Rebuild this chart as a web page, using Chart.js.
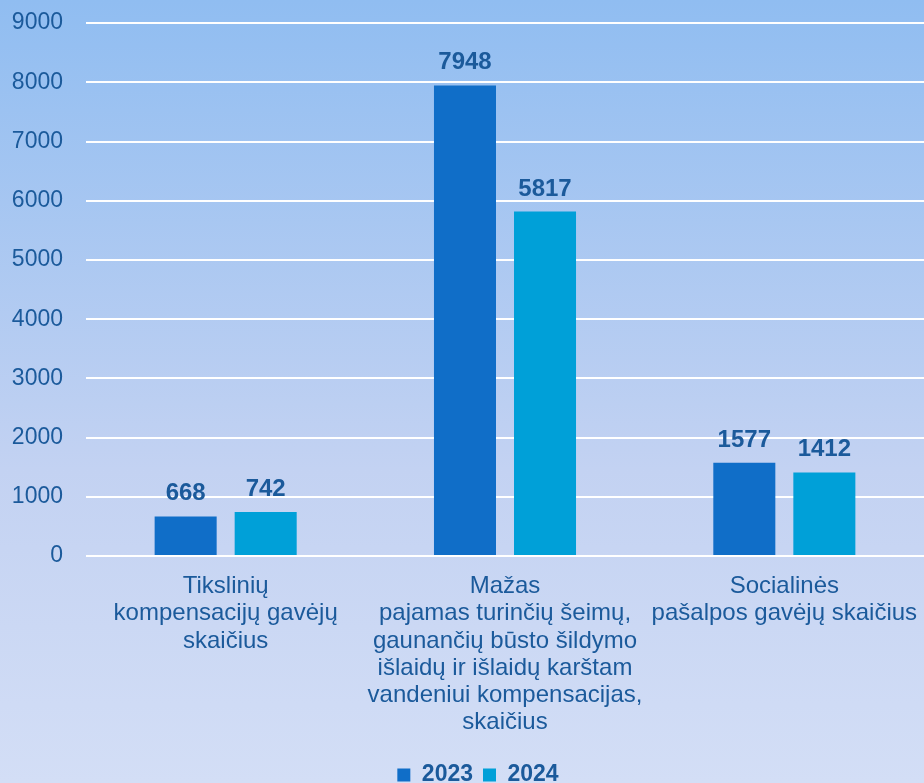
<!DOCTYPE html>
<html lang="lt">
<head>
    <meta charset="UTF-8">
    <title>Kompensacijų gavėjai</title>
    <script src="https://cdn.jsdelivr.net/npm/chart.js"></script>
    <style>
        body { margin: 0; padding: 0; }
        .wrap { width: 924px; height: 783px; background: linear-gradient(to bottom, #90bdf1 0%, #c3d2f2 60%, #d3def6 100%); }
    </style>
</head>
<body>
    <div class="wrap">
        <canvas id="chart" width="924" height="783"></canvas>
    </div>

    <script>
        // data
        const categories = [
            ['Tikslinių', 'kompensacijų gavėjų', 'skaičius'],
            ['Mažas', 'pajamas turinčių šeimų,', 'gaunančių būsto šildymo', 'išlaidų ir išlaidų karštam', 'vandeniui kompensacijas,', 'skaičius'],
            ['Socialinės', 'pašalpos gavėjų skaičius']
        ];
        const values2023 = [668, 7948, 1577];
        const values2024 = [742, 5817, 1412];
        const yTicks = [0, 1000, 2000, 3000, 4000, 5000, 6000, 7000, 8000, 9000];

        const textColor = '#1b5a9b';
        const fontFamily = '"Liberation Sans", Arial, sans-serif';

        // simple value labels above bars
        const barLabels = {
            id: 'barLabels',
            afterLayout(chart) {
                // legend in the original sits a bit right of centre
                chart.legend.left += 16;
                chart.legend.right += 16;
            },
            afterDatasetsDraw(chart) {
                const ctx = chart.ctx;
                ctx.save();
                ctx.font = 'bold 24px ' + fontFamily;
                ctx.fillStyle = textColor;
                ctx.textAlign = 'center';
                ctx.textBaseline = 'alphabetic';
                chart.data.datasets.forEach((ds, i) => {
                    chart.getDatasetMeta(i).data.forEach((bar, j) => {
                        ctx.fillText(ds.data[j], bar.x, bar.y - 16);
                    });
                });
                ctx.restore();
            }
        };

        const ctx = document.getElementById('chart').getContext('2d');
        new Chart(ctx, {
            type: 'bar',
            data: {
                labels: categories,
                datasets: [
                    { label: '2023', data: values2023, backgroundColor: '#106ec8' },
                    { label: '2024', data: values2024, backgroundColor: '#00a0d8' }
                ]
            },
            options: {
                responsive: false,
                animation: false,
                layout: { padding: { top: 0, right: 0, bottom: -13.5, left: 0 } },
                categoryPercentage: 0.573,
                barPercentage: 0.775,
                scales: {
                    y: {
                        min: 0,
                        max: 9000,
                        afterBuildTicks: s => { s.ticks = yTicks.map(v => ({ value: v })); },
                        afterFit: s => { s.width = 86; },
                        border: { display: false },
                        grid: { color: '#ffffff', lineWidth: 2, drawTicks: false },
                        ticks: {
                            padding: 23,
                            color: textColor,
                            callback: v => String(v),
                            font: { family: fontFamily, size: 23, lineHeight: 0.01 }
                        }
                    },
                    x: {
                        afterFit: s => {
                            s.height = 197.5;
                            s.paddingLeft = 0;
                            s.paddingRight = 0;
                        },
                        border: { display: false },
                        grid: { display: false, drawTicks: false },
                        ticks: {
                            padding: 17,
                            maxRotation: 0,
                            autoSkip: false,
                            color: textColor,
                            font: { family: fontFamily, size: 24, lineHeight: '27.2px' }
                        }
                    }
                },
                plugins: {
                    legend: {
                        position: 'bottom',
                        labels: {
                            boxWidth: 13,
                            boxHeight: 13,
                            padding: 10,
                            color: textColor,
                            font: { family: fontFamily, size: 23, weight: 'bold' }
                        }
                    },
                    tooltip: { enabled: false }
                }
            },
            plugins: [barLabels]
        });
    </script>
</body>
</html>
